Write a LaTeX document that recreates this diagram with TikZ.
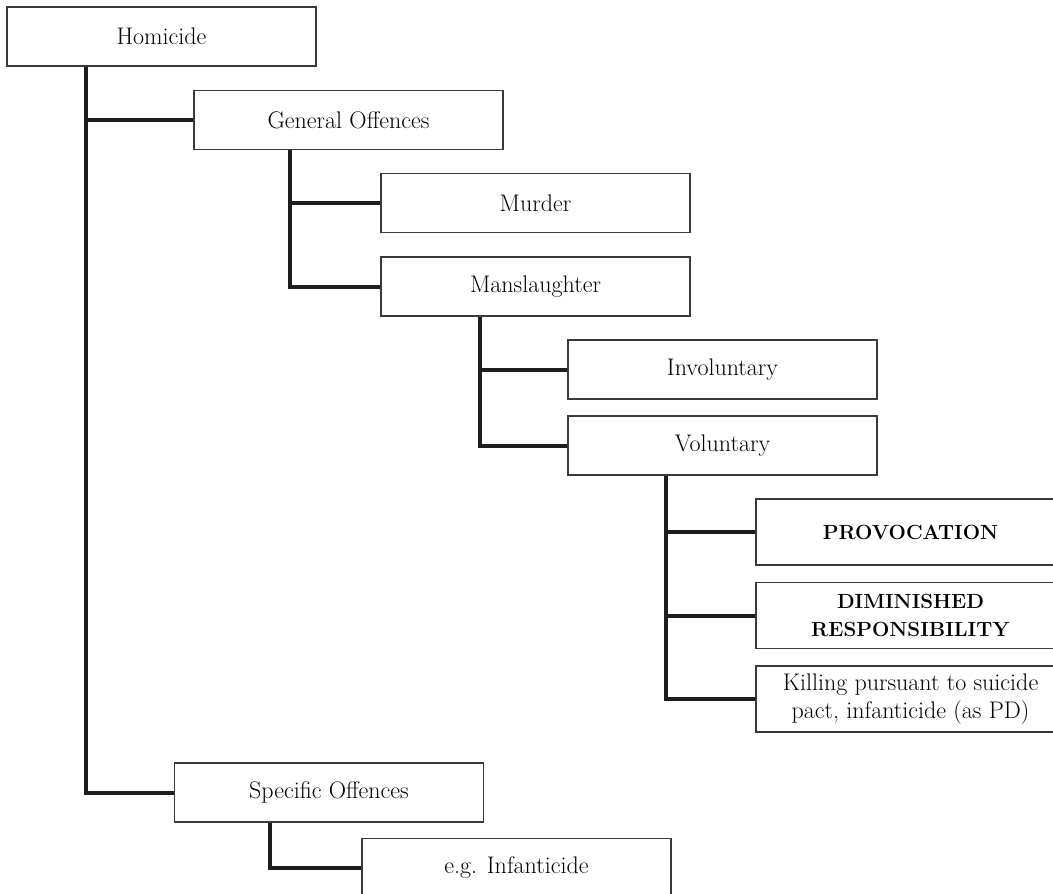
\documentclass[tikz,border=0pt]{standalone}
\usepackage{fontspec}
\usetikzlibrary{positioning,calc}
\definecolor{boxLine}{HTML}{3A3A3A}
\definecolor{treeLine}{HTML}{1E1E1E}

\begin{document}
\begin{tikzpicture}[
    x=1pt,y=-1pt,
    link/.style={line width=4pt,treeLine},
    offence/.style={rectangle,draw=boxLine,line width=1.2pt,fill=white,
        minimum width=309pt,minimum height=59pt,inner sep=2pt,align=center,
        font=\fontsize{24}{28}\selectfont},
    partial/.style={offence,minimum height=66pt},
    defence/.style={partial,font=\fontsize{20.5}{28}\selectfont\bfseries},
]
\clip (0,0) rectangle (1053,894);

% === TOP LEVEL ===
\node[offence] (homicide) at (161.5,36.5) {Homicide};
\node[offence] (general) at (348.5,120) {General Offences};
\node[offence] (specific) at (329,792.5) {Specific Offences};
\node[offence] (eg) at (516.5,868) {e.g. Infanticide};

% === GENERAL OFFENCES ===
\node[offence] (murder) at (535.5,203) {Murder};
\node[offence] (mansl) at (535.5,286.5) {Manslaughter};
\node[offence] (invol) at (722.5,369.5) {Involuntary};
\node[offence] (vol) at (722.5,445.5) {Voluntary};

% === VOLUNTARY MANSLAUGHTER ===
\node[defence] (provoc) at (910.5,532) {PROVOCATION};
\node[defence] (dimin) at (910.5,615.5) {DIMINISHED\\RESPONSIBILITY};
\node[partial] (pact) at (910.5,699) {Killing pursuant to suicide\\pact, infanticide (as PD)};

% === TREE LINES ===
\coordinate (tHom) at ($(homicide.south west)+(80,0)$);
\draw[link] (tHom) |- (specific.west);
\draw[link] (tHom |- general.west) -- (general.west);

\coordinate (tGen) at ($(general.south west)+(97,0)$);
\draw[link] (tGen) |- (mansl.west);
\draw[link] (tGen |- murder.west) -- (murder.west);

\coordinate (tMan) at ($(mansl.south west)+(100,0)$);
\draw[link] (tMan) |- (vol.west);
\draw[link] (tMan |- invol.west) -- (invol.west);

\coordinate (tVol) at ($(vol.south west)+(99,0)$);
\draw[link] (tVol) |- (pact.west);
\draw[link] (tVol |- provoc.west) -- (provoc.west);
\draw[link] (tVol |- dimin.west) -- (dimin.west);

\coordinate (tSpe) at ($(specific.south west)+(96,0)$);
\draw[link] (tSpe) |- (eg.west);

\end{tikzpicture}
\end{document}
